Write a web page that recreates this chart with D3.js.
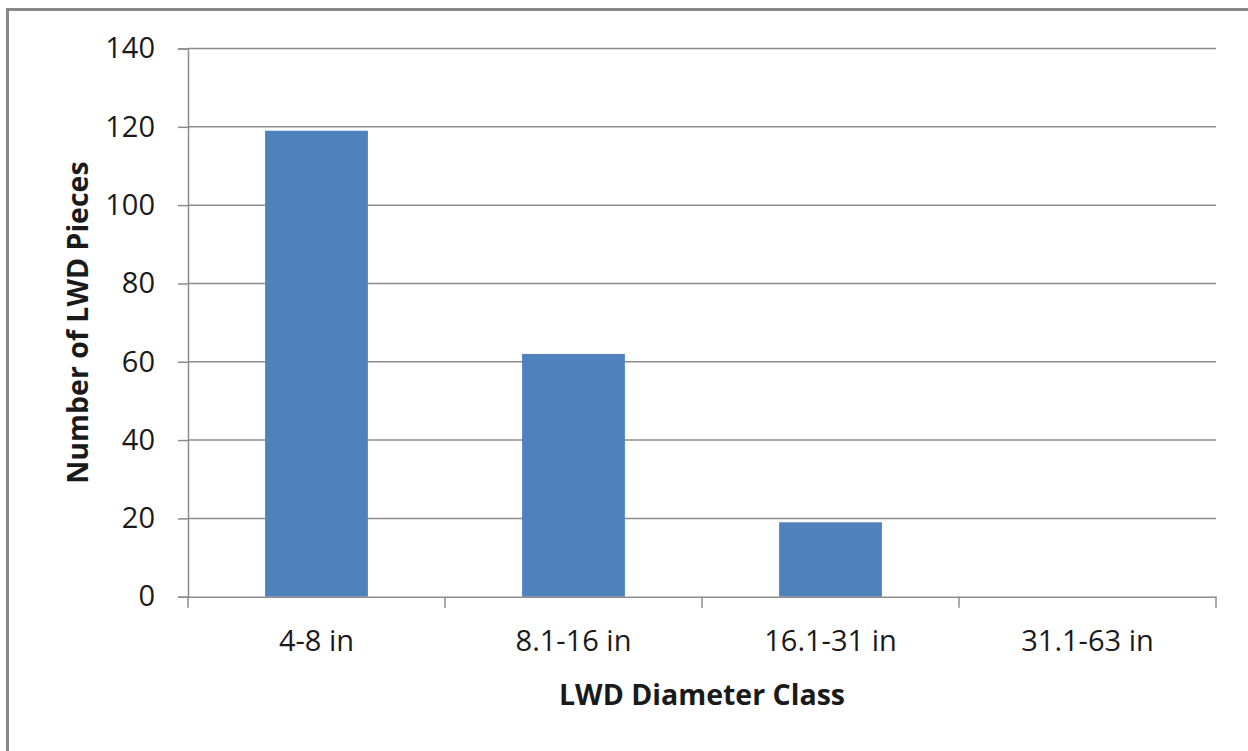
<!DOCTYPE html>
<html><head><meta charset="utf-8">
<script src="https://cdn.jsdelivr.net/npm/d3@7"></script>
<style>body{margin:0;background:#fff;} svg{display:block;}</style>
</head><body>
<svg id="chart" width="1248" height="751"></svg>
<script>
const categories = ["4-8 in", "8.1-16 in", "16.1-31 in", "31.1-63 in"];
const values = [119, 62, 19, 0];
const yTicks = [0, 20, 40, 60, 80, 100, 120, 140];
const xTitle = "LWD Diameter Class";
const yTitle = "Number of LWD Pieces";

(function () {
const svg = d3.select("#chart");
const font = "'Open Sans', 'Noto Sans', sans-serif";
const gridColor = "#8c8c8c";

// outer chart border
svg.append("rect").attr("x", 7.5).attr("y", 9.5).attr("width", 1260).attr("height", 760)
  .attr("fill", "none").attr("stroke", "#878787").attr("stroke-width", 3);

const pLeft = 188, pRight = 1216, pTop = 48.5, pBottom = 596.7;
const x = d3.scaleBand().domain(categories).range([pLeft, pRight]).paddingInner(0.6).paddingOuter(0.3);
const y = d3.scaleLinear().domain([0, 140]).range([pBottom, pTop]);

// gridlines
svg.append("g").selectAll("line").data(yTicks.filter(d => d > 0)).join("line")
  .attr("x1", pLeft).attr("x2", pRight)
  .attr("y1", d => y(d)).attr("y2", d => y(d))
  .attr("stroke", gridColor).attr("stroke-width", 1.5);

// bars
svg.append("g").selectAll("rect").data(values).join("rect")
  .attr("x", (d, i) => x(categories[i]))
  .attr("width", x.bandwidth())
  .attr("y", d => y(d))
  .attr("height", d => y(0) - y(d))
  .attr("fill", "#4F81BD");

// y axis
const yAxis = svg.append("g").attr("transform", `translate(${pLeft},0)`)
  .call(d3.axisLeft(y).tickValues(yTicks).tickSize(10).tickPadding(23));
yAxis.select(".domain").attr("stroke", gridColor).attr("stroke-width", 1.5);
yAxis.selectAll(".tick line").attr("stroke", gridColor).attr("stroke-width", 1.5);
yAxis.selectAll(".tick text").attr("font-family", font).attr("font-size", 29).attr("fill", "#1a1a1a");

// x axis
const xStep = (pRight - pLeft) / categories.length;
const xAxis = svg.append("g").attr("transform", `translate(0,${pBottom})`)
  .call(d3.axisBottom(x).tickSize(0).tickPadding(34));
xAxis.select(".domain").attr("stroke", gridColor).attr("stroke-width", 1.5);
xAxis.selectAll(".tick text").attr("font-family", font).attr("font-size", 29).attr("fill", "#1a1a1a");
// category separators
svg.append("g").selectAll("line").data(d3.range(categories.length + 1)).join("line")
  .attr("x1", i => pLeft + i * xStep).attr("x2", i => pLeft + i * xStep)
  .attr("y1", pBottom).attr("y2", pBottom + 11)
  .attr("stroke", gridColor).attr("stroke-width", 1.5);

// axis titles
svg.append("text").attr("x", (pLeft + pRight) / 2).attr("y", 705)
  .attr("text-anchor", "middle").attr("font-family", font).attr("font-weight", "bold")
  .attr("font-size", 28.5).attr("fill", "#1a1a1a").text(xTitle);
svg.append("text").attr("transform", `translate(88,${(pTop + pBottom) / 2}) rotate(-90)`)
  .attr("text-anchor", "middle").attr("font-family", font).attr("font-weight", "bold")
  .attr("font-size", 28.5).attr("fill", "#1a1a1a").text(yTitle);
})();
</script>
</body></html>
